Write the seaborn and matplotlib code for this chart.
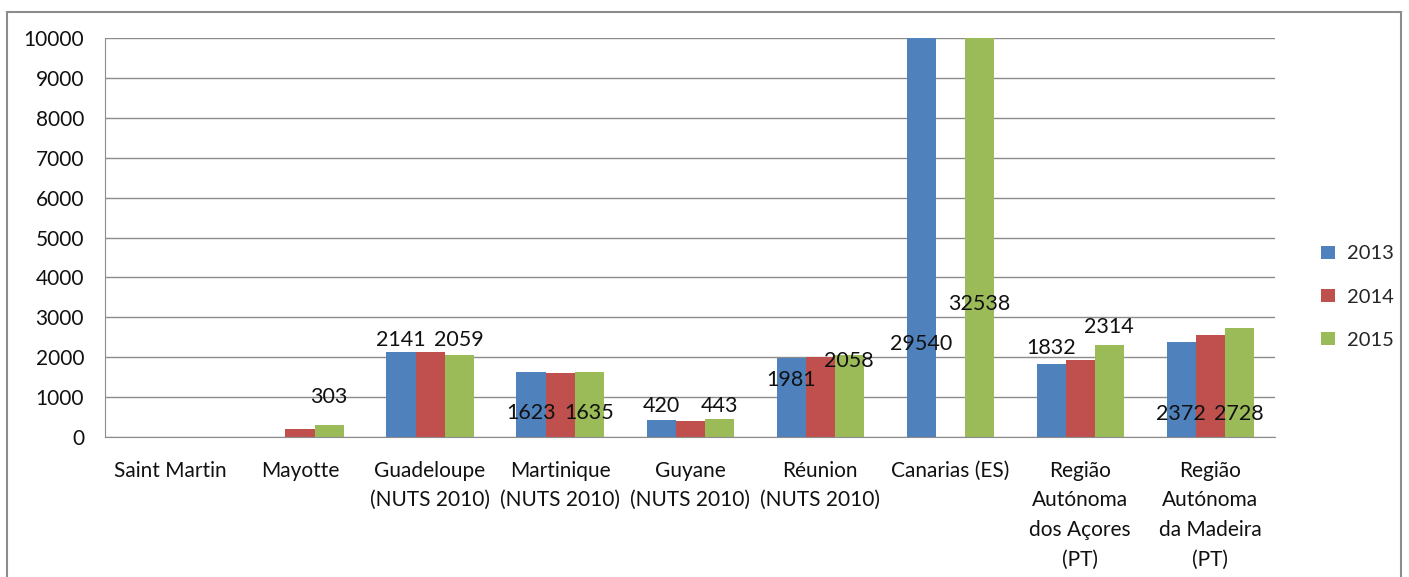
import numpy as np
import pandas as pd
import seaborn as sns
import matplotlib.pyplot as plt
from matplotlib.patches import Rectangle
from matplotlib.ticker import MultipleLocator

# datos
regioes = ["Saint Martin", "Mayotte", "Guadeloupe\n(NUTS 2010)", "Martinique\n(NUTS 2010)",
           "Guyane\n(NUTS 2010)", "Réunion\n(NUTS 2010)", "Canarias (ES)",
           "Região\nAutónoma\ndos Açores\n(PT)", "Região\nAutónoma\nda Madeira\n(PT)"]
anos = ["2013", "2014", "2015"]
v2013 = [np.nan, np.nan, 2141, 1623, 420, 1981, 29540, 1832, 2372]
v2014 = [np.nan, 200, 2140, 1615, 410, 2000, np.nan, 1930, 2556]
v2015 = [np.nan, 303, 2059, 1635, 443, 2058, 32538, 2314, 2728]

# etiquetas visibles (valor mostrado) y altura donde Excel las dejó
etq2013 = [None, None, "2141", "1623", "420", "1981", "29540", "1832", "2372"]
etq2015 = [None, "303", "2059", "1635", "443", "2058", "32538", "2314", "2728"]
alt2013 = [np.nan, np.nan, 2430, 600, 775, 1430, 2330, 2230, 575]
alt2015 = [np.nan, 1000, 2430, 600, 775, 1900, 3330, 2760, 575]

colores = ["#4F81BD", "#C0504D", "#9BBB59"]

df = pd.DataFrame({"regiao": regioes * 3,
                   "ano": [a for a in anos for _ in regioes],
                   "valor": v2013 + v2014 + v2015})

sns.set_style("white")
plt.rcParams["font.family"] = ["Lato", "DejaVu Sans"]

fig = plt.figure(figsize=(14.09, 5.77), dpi=100)
ax = fig.add_axes([0.0745, 0.2426, 0.8305, 0.6915])

sns.barplot(data=df, x="regiao", y="valor", hue="ano", palette=colores,
            width=0.67, ax=ax, saturation=1, linewidth=0, legend=True)

ax.set_ylim(0, 10000)
ax.set_xlim(-0.5, len(regioes) - 0.5)
ax.yaxis.set_major_locator(MultipleLocator(1000))
ax.grid(axis="y", color="#8c8c8c", linewidth=1)
ax.set_axisbelow(True)
for s in ["top", "right"]:
    ax.spines[s].set_visible(False)
ax.spines["left"].set_color("#8c8c8c")
ax.spines["bottom"].set_color("#8c8c8c")
ax.set_xlabel("")
ax.set_ylabel("")

ax.tick_params(axis="y", length=6, color="#8c8c8c", labelsize=15, pad=9, labelcolor="#111111")
ax.tick_params(axis="x", which="major", length=0, labelsize=15, pad=17, labelcolor="#111111")
ax.set_xticks(np.arange(-0.5, len(regioes), 1), minor=True)
ax.tick_params(axis="x", which="minor", length=6, color="#8c8c8c")
for t in ax.get_xticklabels():
    t.set_linespacing(1.6)
    t.set_verticalalignment("top")

# etiquetas de datos
for j, (etq, alt) in enumerate([(etq2013, alt2013), (None, None), (etq2015, alt2015)]):
    if etq is None:
        continue
    for bar in ax.containers[j]:
        cx = bar.get_x() + bar.get_width() / 2
        i = int(round(cx))
        if etq[i] is None:
            continue
        ax.text(cx, alt[i], etq[i], ha="center", va="center", fontsize=15.5,
                color="#111111", zorder=5)

handles, labels = ax.get_legend_handles_labels()
ax.get_legend().remove()
fig.legend(handles, labels, loc="center left", bbox_to_anchor=(0.925, 0.485),
           frameon=False, fontsize=14.5, handlelength=0.65, handleheight=0.65,
           labelspacing=1.3, handletextpad=0.6)

fig.patches.append(Rectangle((0.005, -0.05), 0.989, 1.03, transform=fig.transFigure,
                             fill=False, edgecolor="#8c8c8c", linewidth=1.5))

fig.savefig("out.png", dpi=100, facecolor="white")
